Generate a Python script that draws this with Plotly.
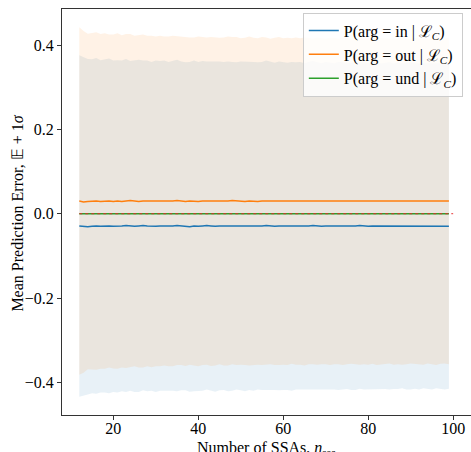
import plotly.graph_objects as go

n_ssa = list(range(12, 100))

mean_in = [
    -0.029, -0.030, -0.031, -0.030, -0.029, -0.030, -0.029, -0.029, -0.030, -0.030,
    -0.029, -0.028, -0.029, -0.030, -0.029, -0.028, -0.029, -0.030, -0.030, -0.029,
    -0.029, -0.030, -0.029, -0.028, -0.029, -0.030, -0.031, -0.029, -0.030, -0.029,
    -0.028, -0.029, -0.030, -0.029, -0.029, -0.030, -0.030, -0.029, -0.029, -0.030,
    -0.029, -0.030, -0.029, -0.029, -0.028, -0.029, -0.030, -0.029, -0.029, -0.030,
    -0.030, -0.029, -0.029, -0.030, -0.029, -0.028, -0.029, -0.030, -0.029, -0.029,
    -0.030, -0.029, -0.029, -0.030, -0.030, -0.029, -0.028, -0.029, -0.030, -0.029,
    -0.029, -0.030, -0.029, -0.029, -0.030, -0.029, -0.029, -0.030, -0.029, -0.029,
    -0.030, -0.029, -0.029, -0.030, -0.029, -0.029, -0.030, -0.030,
]
std_in = [
    0.405, 0.401, 0.398, 0.396, 0.398, 0.394, 0.395, 0.397, 0.393, 0.394,
    0.392, 0.395, 0.391, 0.393, 0.394, 0.391, 0.392, 0.390, 0.393, 0.391,
    0.392, 0.390, 0.391, 0.393, 0.390, 0.389, 0.391, 0.392, 0.390, 0.391,
    0.389, 0.390, 0.392, 0.390, 0.389, 0.391, 0.390, 0.388, 0.390, 0.391,
    0.389, 0.390, 0.388, 0.389, 0.391, 0.389, 0.388, 0.390, 0.389, 0.388,
    0.390, 0.388, 0.389, 0.387, 0.389, 0.390, 0.388, 0.387, 0.389, 0.388,
    0.387, 0.389, 0.388, 0.386, 0.388, 0.389, 0.387, 0.388, 0.386, 0.387,
    0.388, 0.386, 0.387, 0.388, 0.386, 0.387, 0.385, 0.387, 0.388, 0.386,
    0.387, 0.385, 0.386, 0.387, 0.385, 0.386, 0.387, 0.385,
]
mean_out = [
    0.030, 0.028, 0.029, 0.030, 0.030, 0.029, 0.030, 0.030, 0.029, 0.030,
    0.029, 0.030, 0.031, 0.030, 0.029, 0.030, 0.030, 0.029, 0.029, 0.030,
    0.030, 0.029, 0.030, 0.031, 0.030, 0.029, 0.030, 0.029, 0.029, 0.030,
    0.030, 0.029, 0.029, 0.030, 0.029, 0.030, 0.031, 0.030, 0.029, 0.029,
    0.030, 0.029, 0.029, 0.030, 0.030, 0.029, 0.029, 0.030, 0.029, 0.029,
    0.030, 0.030, 0.029, 0.029, 0.030, 0.029, 0.030, 0.030, 0.029, 0.029,
    0.030, 0.029, 0.029, 0.030, 0.029, 0.030, 0.030, 0.029, 0.029, 0.030,
    0.029, 0.029, 0.030, 0.030, 0.029, 0.029, 0.030, 0.029, 0.030, 0.030,
    0.029, 0.029, 0.030, 0.029, 0.029, 0.030, 0.030, 0.030,
]
std_out = [
    0.412, 0.405, 0.398, 0.399, 0.400, 0.397, 0.398, 0.395, 0.396, 0.398,
    0.394, 0.396, 0.395, 0.392, 0.394, 0.395, 0.392, 0.393, 0.391, 0.392,
    0.390, 0.391, 0.392, 0.390, 0.389, 0.390, 0.388, 0.389, 0.391, 0.389,
    0.388, 0.390, 0.389, 0.387, 0.389, 0.390, 0.388, 0.389, 0.387, 0.388,
    0.390, 0.388, 0.387, 0.389, 0.388, 0.386, 0.388, 0.389, 0.387, 0.388,
    0.386, 0.388, 0.387, 0.389, 0.387, 0.386, 0.388, 0.387, 0.386, 0.388,
    0.387, 0.386, 0.388, 0.387, 0.385, 0.387, 0.388, 0.386, 0.387, 0.386,
    0.388, 0.387, 0.386, 0.385, 0.387, 0.386, 0.388, 0.386, 0.385, 0.387,
    0.386, 0.387, 0.385, 0.386, 0.388, 0.386, 0.385, 0.387,
]
mean_und = [0.0] * len(n_ssa)
std_und = [0.0] * len(n_ssa)

ref_x = [12, 100]
ref_y = [0.0, 0.0]

x_title = "Number of SSAs, <i>n</i><sub>ssa</sub>"
y_title = "Mean Prediction Error, 𝔼 + 1<i>σ</i>"

series = [
    ("P(arg = in | ℒ<sub><i>C</i></sub>)", mean_in, std_in, "#1f77b4", "rgba(31,119,180,0.1)"),
    ("P(arg = out | ℒ<sub><i>C</i></sub>)", mean_out, std_out, "#ff7f0e", "rgba(255,127,14,0.1)"),
    ("P(arg = und | ℒ<sub><i>C</i></sub>)", mean_und, std_und, "#2ca02c", "rgba(44,160,44,0.1)"),
]

fig = go.Figure()
for name, m, s, col, fcol in series:
    upper = [a + b for a, b in zip(m, s)]
    lower = [a - b for a, b in zip(m, s)]
    fig.add_trace(go.Scatter(
        x=n_ssa + n_ssa[::-1], y=upper + lower[::-1],
        fill="toself", fillcolor=fcol, line=dict(width=0),
        mode="lines", showlegend=False, hoverinfo="skip"))

for name, m, s, col, fcol in series:
    fig.add_trace(go.Scatter(x=n_ssa, y=m, mode="lines", name=name,
                             line=dict(color=col, width=1.5)))

fig.add_trace(go.Scatter(x=ref_x, y=ref_y, mode="lines", showlegend=False,
                         line=dict(color="rgba(230,40,40,0.75)", width=1.2, dash="dot")))

font_family = "Liberation Serif"
fig.update_layout(
    width=471, height=452,
    margin=dict(l=62, r=0, t=9, b=37),
    paper_bgcolor="white", plot_bgcolor="white",
    font=dict(family=font_family, size=16, color="black"),
    legend=dict(x=0.980, y=0.991, xanchor="right", yanchor="top",
                bgcolor="rgba(255,255,255,0.8)", bordercolor="#cccccc", borderwidth=1,
                font=dict(size=16, family=font_family), tracegroupgap=0),
    xaxis=dict(range=[7.93, 104.2], tickvals=[20, 40, 60, 80, 100],
               automargin=False,
               showgrid=False, zeroline=False, showline=True, mirror=True,
               linecolor="#333333", linewidth=1, ticks="outside", ticklen=4,
               tickcolor="#333333", tickfont=dict(size=16), ticklabelstandoff=-5),
    yaxis=dict(range=[-0.4774, 0.4854], tickvals=[-0.4, -0.2, 0.0, 0.2, 0.4],
               tickformat=".1f", automargin=False,
               showgrid=False, zeroline=False, showline=True, mirror=False,
               linecolor="#333333", linewidth=1, ticks="outside", ticklen=4,
               tickcolor="#333333", tickfont=dict(size=16)),
    annotations=[
        dict(text=x_title, xref="paper", yref="paper", x=0.5, y=-0.082,
             xanchor="center", yanchor="middle", showarrow=False,
             font=dict(size=16, family=font_family)),
        dict(text=y_title, xref="paper", yref="paper", x=-0.111, y=0.4975,
             xanchor="center", yanchor="middle", showarrow=False, textangle=-90,
             font=dict(size=16, family=font_family)),
    ],
)

fig.write_html("out.html", config={"displayModeBar": False},
               post_script="document.body.style.margin='0px';")
